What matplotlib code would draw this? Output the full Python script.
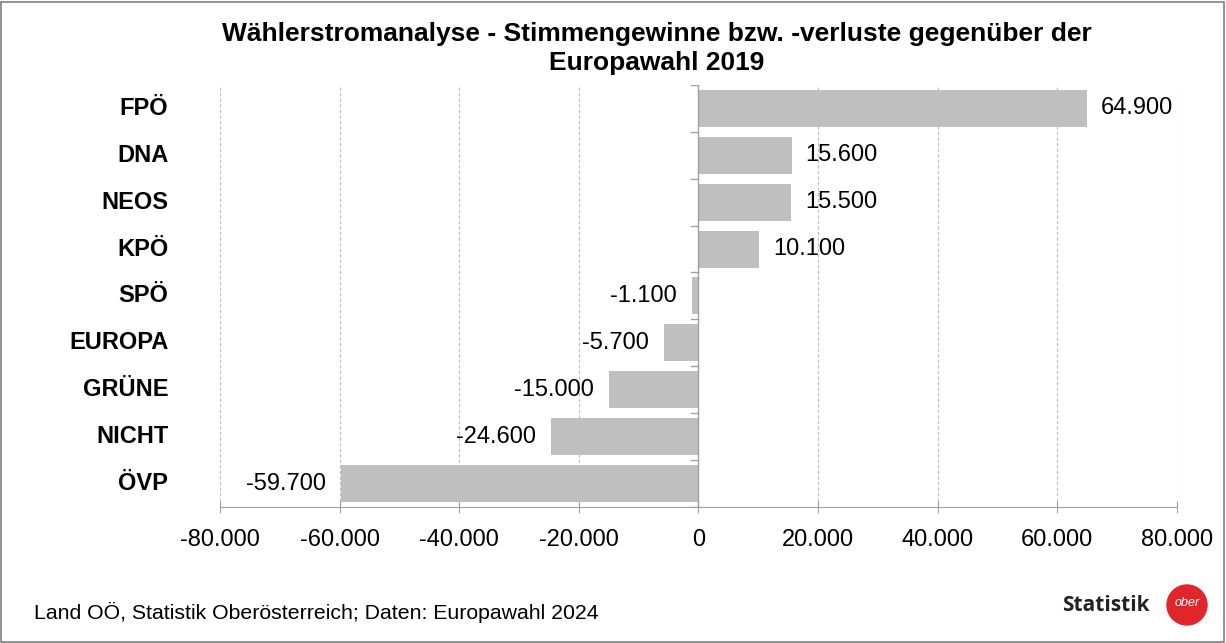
import matplotlib.pyplot as plt
from matplotlib.patches import Rectangle, Ellipse
from matplotlib.ticker import FuncFormatter

plt.rcParams['font.family'] = ['Liberation Sans', 'DejaVu Sans']

parties = ["FPÖ", "DNA", "NEOS", "KPÖ", "SPÖ", "EUROPA", "GRÜNE", "NICHT", "ÖVP"]
changes = [64900, 15600, 15500, 10100, -1100, -5700, -15000, -24600, -59700]
x_ticks = [-80000, -60000, -40000, -20000, 0, 20000, 40000, 60000, 80000]

title = "Wählerstromanalyse - Stimmengewinne bzw. -verluste gegenüber der\nEuropawahl 2019"
source = "Land OÖ, Statistik Oberösterreich; Daten: Europawahl 2024"


def de_fmt(v):
    s = f"{abs(v):,.0f}".replace(",", ".")
    return "-" + s if v < 0 else s


fig = plt.figure(figsize=(12.26, 6.43), dpi=100)
ax = fig.add_axes([0.1794, 0.2115, 0.7806, 0.6565])

ypos = list(range(len(parties)))[::-1]
ax.barh(ypos, changes, height=0.79, color="#bfbfbf", zorder=2)

for y, v in zip(ypos, changes):
    if v >= 0:
        ax.annotate(de_fmt(v), (v, y), xytext=(10, 0), textcoords="offset points",
                    ha="left", va="center", fontsize=17)
    else:
        ax.annotate(de_fmt(v), (v, y), xytext=(-11, 0), textcoords="offset points",
                    ha="right", va="center", fontsize=17)

ax.set_xlim(x_ticks[0], x_ticks[-1])
ax.set_ylim(-0.5, len(parties) - 0.5)
ax.set_xticks(x_ticks)
ax.xaxis.set_major_formatter(FuncFormatter(lambda v, p: de_fmt(v)))
ax.tick_params(axis="x", labelsize=17, length=8, color="#a0a0a0", direction="inout", pad=12)

# category labels on the left, axis line at zero
ax.set_yticks([])
for y, name in zip(ypos, parties):
    ax.text(-0.054, y, name, transform=ax.get_yaxis_transform(), ha="right", va="center",
            fontsize=17, fontweight="bold")
ax.axvline(0, color="#a0a0a0", lw=1, zorder=3)
for y in range(len(parties) + 1):
    ax.plot([-1200, 0], [y - 0.5, y - 0.5], color="#a0a0a0", lw=1, zorder=3)

for t in x_ticks:
    if t != 0:
        ax.axvline(t, color="#bdbdbd", lw=0.8, ls=(0, (3, 2)), zorder=1)

for s in ["top", "right", "left"]:
    ax.spines[s].set_visible(False)
ax.spines["bottom"].set_color("#a0a0a0")

fig.text(0.536, 0.9246, title, ha="center", va="center", fontsize=19,
         fontweight="bold", linespacing=1.3)
fig.text(0.028, 0.047, source, ha="left", va="center", fontsize=15.3)

# logo
fig.text(0.938, 0.058, "Statistik", ha="right", va="center", fontsize=15,
         fontweight="bold", family="Open Sans", color="#222222")
cx, cy, r = 1187, 38, 20
fig.patches.append(Ellipse((cx / 1226, cy / 643), 2 * r / 1226, 2 * r / 643,
                           transform=fig.transFigure, color="#e0262a", zorder=5))
fig.text(cx / 1226, (cy + 2) / 643, "ober", ha="center", va="center", fontsize=9,
         color="white", fontstyle="italic", zorder=6)

fig.patches.append(Rectangle((0.001, 0.002), 0.997, 0.995, transform=fig.transFigure,
                             fill=False, edgecolor="#7f7f7f", lw=1.2))

fig.savefig("out.png", dpi=100)
